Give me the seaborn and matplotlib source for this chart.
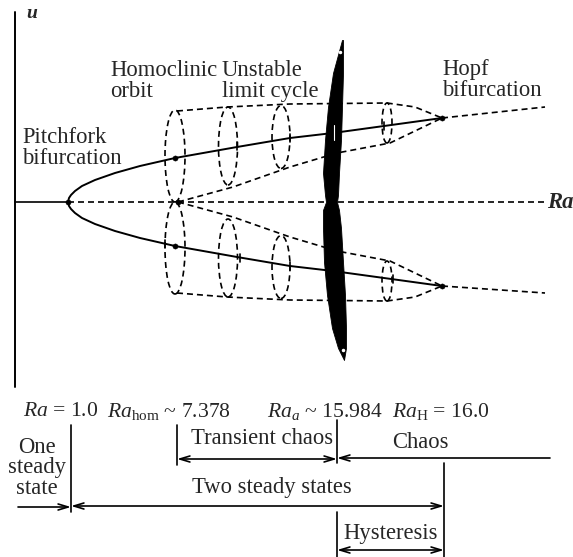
import matplotlib
matplotlib.use("Agg")
import matplotlib.pyplot as plt
import seaborn as sns
import numpy as np
from matplotlib.patches import Ellipse

# ---- schematic values (x in Ra-ish pixel units, u up from the Ra axis) ----
pitchfork_x = 68
homoclinic_x = 178
hopf_x = 442
ra_axis_end = 545

# stable branch (upper; lower is the mirror image)
branch_x = [68, 69, 71, 75, 82, 95, 115, 140, 175, 237, 290, 333, 384, 442]
branch_u = [0, 4, 7, 11, 16, 22, 29, 36, 44, 55, 64, 69, 76, 84]

# unstable continuation after the Hopf point
post_hopf_x = [442, 545]
post_hopf_upper = [84, 95]
post_hopf_lower = [-84, -91]

# small tick marks where the cycles cross the branch
tick_x_upper = [237, 290, 384]
tick_u_upper = [56, 64, 76]
tick_x_lower = [165, 240, 290, 393]
tick_u_lower = [-42, -56, -64, -77]
dot_x = [175, 175]
dot_u = [44, -44]

# envelope of the unstable limit cycles (upper cone)
cone_outer_x = [177, 227, 290, 387, 415, 442]
cone_outer_u = [91, 95, 98, 99, 95, 84]
cone_inner_x = [178, 233, 290, 337, 390, 442]
cone_inner_u = [0, 15, 35, 49, 59, 84]

# limit cycle cross sections
cycle_x = [175, 228, 281, 387]
cycle_mid = [46, 56, 65, 79]
cycle_w = [20, 19, 18, 10]
cycle_h = [92, 78, 63, 40]

# chaotic attractor outline (pixel rows -> left / right edges)
attr_row = [40, 73, 107, 140, 173, 195, 202, 210, 228, 262, 295, 328, 348, 360]
attr_left = [342, 333, 328, 325, 323, 325, 326, 323, 323, 324, 327, 332, 338, 344]
attr_right = [343, 343, 342, 341, 339, 338, 337, 339, 341, 343, 345, 346, 346, 344]

# lower regime diagram
ra_marks = [71, 177, 337, 444]
ra_labels = [r'$Ra$ = 1.0', r'$Ra_{\mathrm{hom}}$ ~ 7.378',
             r'$Ra_{a}$ ~ 15.984', r'$Ra_{\mathrm{H}}$ = 16.0']
ra_label_x = [23, 107, 267, 392]

sns.set_theme(style="white")
plt.rcParams['font.family'] = ['Liberation Serif', 'DejaVu Serif']
plt.rcParams['mathtext.fontset'] = 'custom'
plt.rcParams['mathtext.rm'] = 'Liberation Serif'
plt.rcParams['mathtext.it'] = 'Liberation Serif:italic'

fig = plt.figure(figsize=(5.73, 5.57), dpi=100)
ax = fig.add_axes([0, 0, 1, 1])
ax.set_xlim(0, 573)
ax.set_ylim(-355, 202)
ax.axis('off')

DASH = (0, (3.6, 2.4))
K = 'black'


def line(x, y, dashed=False, lw=1.2, z=2):
    sns.lineplot(x=x, y=y, ax=ax, color=K, lw=lw, sort=False, estimator=None,
                 linestyle=DASH if dashed else '-', zorder=z, legend=False)


# axes of the diagram
line([15, 15], [190, -185], lw=1.4)
line([15, pitchfork_x], [0, 0], lw=1.2)
line([pitchfork_x, ra_axis_end], [0, 0], dashed=True)

# stable branches
bu = np.array(branch_u)
line(branch_x, bu, lw=1.4)
line(branch_x, -bu, lw=1.4)
line(post_hopf_x, post_hopf_upper, dashed=True)
line(post_hopf_x, post_hopf_lower, dashed=True)

for x, u in zip(tick_x_upper + tick_x_lower, tick_u_upper + tick_u_lower):
    line([x, x], [u - 4, u + 4], lw=1.2)

# unstable limit cycle cones
for s in (1, -1):
    line(cone_outer_x, s * np.array(cone_outer_u), dashed=True)
    line(cone_inner_x, s * np.array(cone_inner_u), dashed=True)
    for cx, cm, w, h in zip(cycle_x, cycle_mid, cycle_w, cycle_h):
        ax.add_patch(Ellipse((cx, s * cm), w, h, fill=False, ec=K, lw=1.2,
                             ls=DASH, zorder=2))

# fixed points
sns.scatterplot(x=[pitchfork_x, homoclinic_x, hopf_x, hopf_x] + dot_x,
                y=[0, 0, 84, -84] + dot_u, ax=ax, color=K, s=14,
                edgecolor=K, zorder=4, legend=False)

# chaotic attractor
au = 202 - np.array(attr_row)
ax.fill_betweenx(au, attr_left, attr_right, color=K, lw=0.6, ec=K, zorder=5)
ax.plot([340, 343], [150, -148], 'o', color='white', ms=1.5, zorder=6)
ax.plot([334, 334], [77, 62], color='white', lw=0.8, zorder=6)

# labels
fs = 16.3
ax.text(26, 188, 'u', fontsize=14, style='italic', weight='bold',
        ha='left', va='center')
ax.text(22, 54, 'Pitchfork\nbifurcation', fontsize=fs, ha='left', va='center',
        linespacing=1.0)
ax.text(110, 121, 'Homoclinic\norbit', fontsize=fs, ha='left', va='center',
        linespacing=1.0)
ax.text(222, 121, 'Unstable\nlimit cycle', fontsize=fs, ha='left', va='center',
        linespacing=1.0)
ax.text(442, 122, 'Hopf\nbifurcation', fontsize=fs, ha='left', va='center',
        linespacing=1.0)
ax.text(547, 0, 'Ra', fontsize=fs, style='italic', weight='bold',
        ha='left', va='center')

# ---- regime diagram ----
for x, lab in zip(ra_label_x, ra_labels):
    ax.text(x, -210, lab, fontsize=15.6, ha='left', va='center')

line([ra_marks[0]] * 2, [-223, -310])
line([ra_marks[1]] * 2, [-223, -263])
line([ra_marks[2]] * 2, [-218, -261])
line([ra_marks[2]] * 2, [-310, -355])
line([ra_marks[3]] * 2, [-261, -355])


def arrow(x0, x1, y, style):
    ax.annotate('', xy=(x1, y), xytext=(x0, y),
                arrowprops=dict(arrowstyle=style + ',head_length=0.6,head_width=0.18',
                                color=K, lw=1.2, shrinkA=0, shrinkB=0))


arrow(ra_marks[1], ra_marks[2], -257, '<->')
arrow(550, ra_marks[2], -256, '->')
arrow(18, ra_marks[0], -305, '->')
arrow(ra_marks[0], ra_marks[3], -304, '<->')
arrow(ra_marks[2], ra_marks[3], -348, '<->')

ax.text(37, -266, 'One\nsteady\nstate', fontsize=fs, ha='center', va='center',
        linespacing=0.95)
ax.text(262, -236, 'Transient chaos', fontsize=fs, ha='center', va='center')
ax.text(420, -241, 'Chaos', fontsize=fs, ha='center', va='center')
ax.text(272, -286, 'Two steady states', fontsize=fs, ha='center', va='center')
ax.text(391, -331, 'Hysteresis', fontsize=fs, ha='center', va='center')

fig.savefig('out.png', dpi=100)
